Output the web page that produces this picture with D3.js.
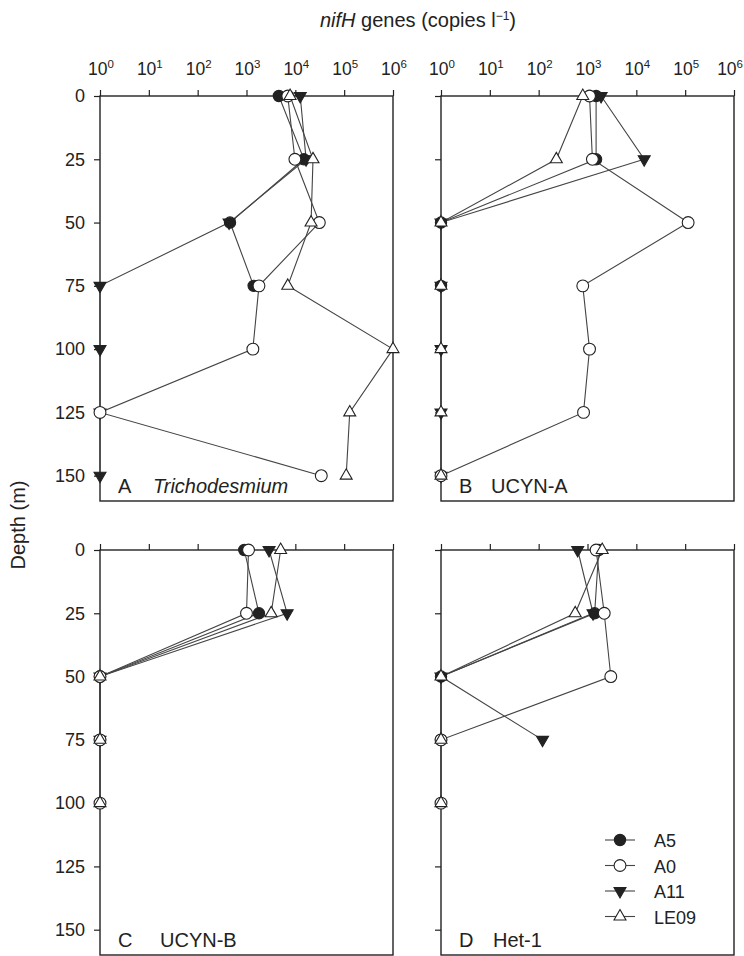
<!DOCTYPE html>
<html>
<head>
<meta charset="utf-8">
<script src="https://cdn.jsdelivr.net/npm/d3@7"></script>
<style>
  body { margin: 0; background: #fff; }
  svg { font-family: "Liberation Sans", Arial, sans-serif; }
</style>
</head>
<body>
<svg width="744" height="956"></svg>
<script>
// depths sampled (m)
const depths = [0, 25, 50, 75, 100, 125, 150];
const stations = ["A5", "A0", "A11", "LE09"];
const decades = [1, 10, 100, 1e3, 1e4, 1e5, 1e6];
const depthTicks = [0, 25, 50, 75, 100, 125, 150];

// nifH copies per litre, null = not sampled
const trichoA5   = [4600, 15000, 460, 1400, null, null, null];
const trichoA0   = [7000, 9800, 31000, 1800, 1350, 1, 34000];
const trichoA11  = [12600, 16600, 440, 1, 1, 1, 1];
const trichoLE09 = [7800, 23000, 21000, 7000, 1000000, 130000, 110000];

const ucynaA5   = [1500, 1500, 1, 1, null, null, null];
const ucynaA0   = [1100, 1260, 115000, 800, 1100, 830, 1];
const ucynaA11  = [1900, 14500, 1, 1, 1, 1, 1];
const ucynaLE09 = [800, 230, 1, 1, 1, 1, 1];

const ucynbA5   = [900, 1800, 1, 1, null, null, null];
const ucynbA0   = [1100, 1000, 1, 1, 1, null, null];
const ucynbA11  = [2900, 6800, 1, 1, null, null, null];
const ucynbLE09 = [5000, 3200, 1, 1, 1, null, null];

const het1A5   = [1700, 1400, 1, 1, null, null, null];
const het1A0   = [1500, 2200, 3000, 1, 1, null, null];
const het1A11  = [630, 1300, 1, 120, null, null, null];
const het1LE09 = [2000, 560, 1, 1, 1, null, null];

const panels = [
  { letter: "A", name: "Trichodesmium", italic: true, x: 100, y: 96, labelsX: true, labelsY: true, nameX: 53,
    data: [trichoA5, trichoA0, trichoA11, trichoLE09] },
  { letter: "B", name: "UCYN-A", italic: false, x: 441, y: 96, labelsX: true, labelsY: false, nameX: 50,
    data: [ucynaA5, ucynaA0, ucynaA11, ucynaLE09] },
  { letter: "C", name: "UCYN-B", italic: false, x: 100, y: 550, labelsX: false, labelsY: true, nameX: 60,
    data: [ucynbA5, ucynbA0, ucynbA11, ucynbLE09] },
  { letter: "D", name: "Het-1", italic: false, x: 441, y: 550, labelsX: false, labelsY: false, nameX: 52,
    data: [het1A5, het1A0, het1A11, het1LE09] }
];

const W = 293, H = 405;
const ink = "#222";
const lineCol = "#444";

const x = d3.scaleLog().domain([1, 1e6]).range([0, W]);
const y = d3.scaleLinear().domain([0, 160]).range([0, H]);

const svg = d3.select("svg");

const sym = {
  A5:   { type: d3.symbolCircle, size: 100, fill: ink, rot: 0 },
  A0:   { type: d3.symbolCircle, size: 110, fill: "#fff", rot: 0 },
  A11:  { type: d3.symbolTriangle, size: 62, fill: ink, rot: 180 },
  LE09: { type: d3.symbolTriangle, size: 62, fill: "#fff", rot: 0 }
};

function marker(sel, name) {
  const s = sym[name];
  sel.append("path")
    .attr("d", d3.symbol().type(s.type).size(s.size)())
    .attr("fill", s.fill)
    .attr("stroke", ink)
    .attr("stroke-width", 1.1)
    .attr("transform", s.rot ? `rotate(${s.rot})` : null);
}

// title
const title = svg.append("text")
  .attr("x", 418).attr("y", 27)
  .attr("text-anchor", "middle")
  .attr("font-size", 20)
  .attr("fill", ink);
title.append("tspan").attr("font-style", "italic").text("nifH");
title.append("tspan").text(" genes (copies l");
title.append("tspan").attr("font-size", 12).attr("dy", -7).text("−1");
title.append("tspan").attr("dy", 7).text(")");

svg.append("text")
  .attr("transform", "translate(25,525) rotate(-90)")
  .attr("text-anchor", "middle")
  .attr("font-size", 20)
  .attr("fill", ink)
  .text("Depth (m)");

panels.forEach(p => {
  const g = svg.append("g").attr("transform", `translate(${p.x},${p.y})`);

  const xAxis = g.append("g").call(d3.axisTop(x).tickValues(decades).tickSize(6).tickFormat(""));
  const yAxis = g.append("g").call(d3.axisLeft(y).tickValues(depthTicks).tickSize(6).tickPadding(9)
    .tickFormat(p.labelsY ? d3.format("d") : ""));
  [xAxis, yAxis].forEach(a => {
    a.select(".domain").remove();
    a.selectAll("line").attr("stroke", ink).attr("stroke-width", 1.2);
    a.selectAll("text").attr("font-size", 18).attr("fill", ink)
      .attr("font-family", "'Liberation Sans', Arial, sans-serif");
  });

  if (p.labelsX) {
    decades.forEach((v, i) => {
      // keep the last label of the right panel inside the page
      const last = i === decades.length - 1 && p.x + W + 16 > 744;
      const t = g.append("text")
        .attr("x", last ? 744 - p.x - 1 : x(v) + 1).attr("y", -21)
        .attr("text-anchor", last ? "end" : "middle")
        .attr("font-size", 17.5).attr("fill", ink);
      t.append("tspan").text("10");
      t.append("tspan").attr("font-size", 11.5).attr("dy", -7).text(Math.round(Math.log10(v)));
    });
  }

  g.append("rect")
    .attr("width", W).attr("height", H)
    .attr("fill", "none").attr("stroke", ink).attr("stroke-width", 1.4);

  const line = d3.line()
    .defined(d => d.v != null)
    .x(d => x(d.v)).y(d => y(d.depth));

  const rows = p.data.map((vals, i) => ({
    name: stations[i],
    pts: vals.map((v, j) => ({ v: v, depth: depths[j] }))
  }));

  rows.forEach(r => {
    g.append("path")
      .attr("d", line(r.pts))
      .attr("fill", "none").attr("stroke", lineCol).attr("stroke-width", 1.1);
  });

  ["A5", "A11", "A0", "LE09"].forEach(nm => {
    const r = rows.find(d => d.name === nm);
    r.pts.filter(d => d.v != null).forEach(d => {
      const m = g.append("g").attr("transform", `translate(${x(d.v)},${y(d.depth)})`);
      marker(m, nm);
    });
  });

  g.append("text")
    .attr("x", 18).attr("y", H - 8)
    .attr("font-size", 20).attr("fill", ink)
    .text(p.letter);
  g.append("text")
    .attr("x", p.nameX).attr("y", H - 8)
    .attr("font-size", 20).attr("fill", ink)
    .attr("font-style", p.italic ? "italic" : "normal")
    .text(p.name);
});

// legend inside panel D
const leg = svg.append("g").attr("transform", "translate(620,840)");
stations.forEach((nm, i) => {
  const row = leg.append("g").attr("transform", `translate(0,${i * 25.5})`);
  row.append("line").attr("x1", -15).attr("x2", 15)
    .attr("stroke", lineCol).attr("stroke-width", 1.1);
  const m = row.append("g");
  marker(m, nm);
  row.append("text").attr("x", 34).attr("y", 7)
    .attr("font-size", 18).attr("fill", ink).text(nm);
});
</script>
</body>
</html>
